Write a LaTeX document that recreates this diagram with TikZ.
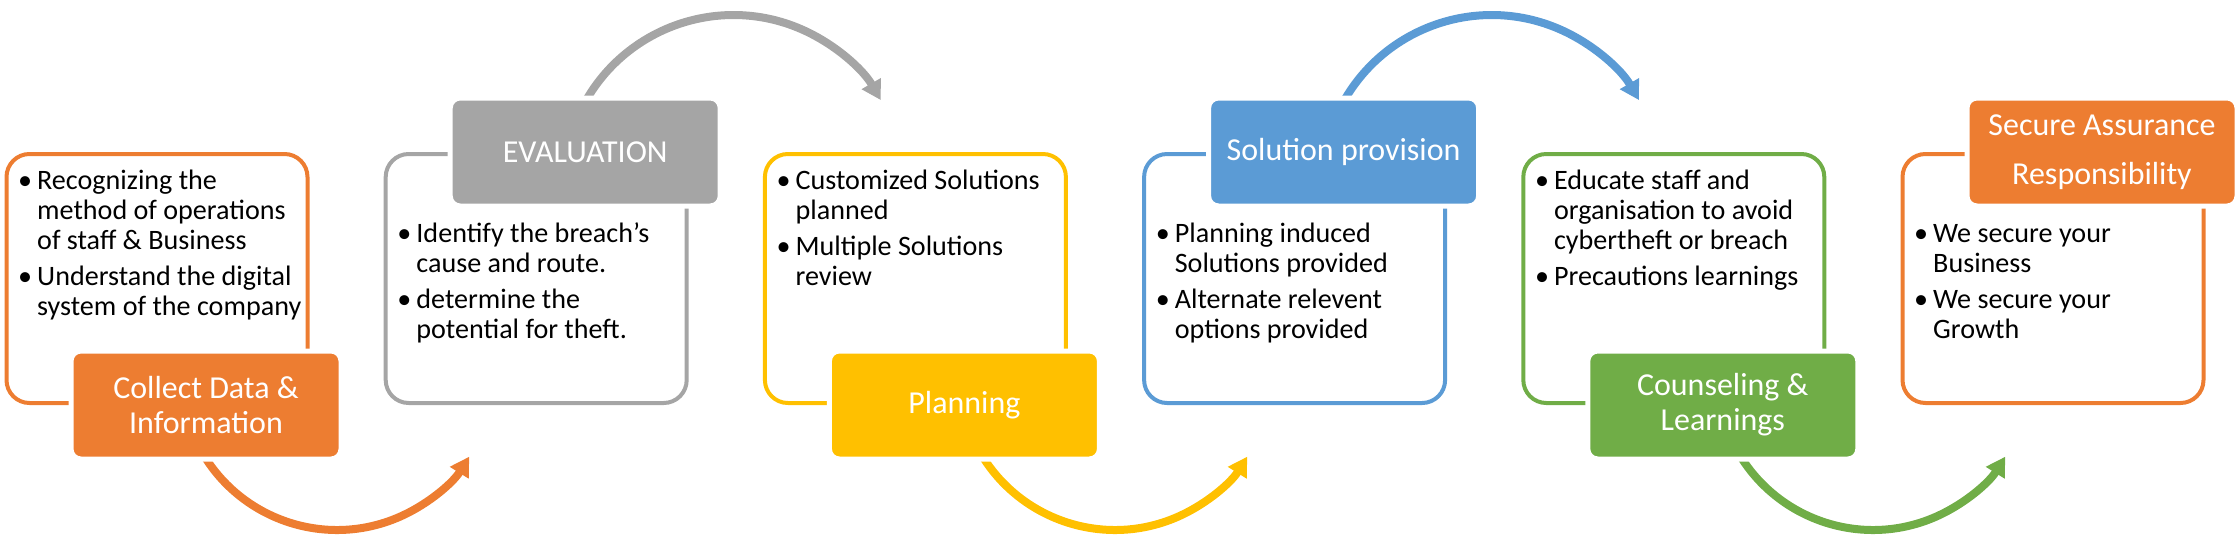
\documentclass[tikz,border=0pt]{standalone}
\usepackage{fontspec}
\setmainfont{Carlito}
\usetikzlibrary{arrows.meta,positioning}
\definecolor{collect}{RGB}{237,125,49}
\definecolor{evaluate}{RGB}{165,165,165}
\definecolor{planning}{RGB}{255,192,0}
\definecolor{provision}{RGB}{91,155,213}
\definecolor{counsel}{RGB}{112,173,71}
\definecolor{assure}{RGB}{237,125,49}
\newenvironment{points}{\begin{list}{\textbullet}{%
  \setlength{\leftmargin}{0.19cm}\setlength{\labelwidth}{0.19cm}%
  \setlength{\labelsep}{0pt}\setlength{\itemsep}{1.7pt}%
  \setlength{\parsep}{0pt}\setlength{\topsep}{0pt}\setlength{\partopsep}{0pt}%
  \def\makelabel##1{\strut##1\hfil}}}{\end{list}}
\newcommand{\bullets}[1]{\parbox[t]{2.95cm}{\raggedright\begin{points}#1\end{points}}}

\begin{document}
\begin{tikzpicture}[
  card/.style={draw=#1, line width=0.04cm, rounded corners=0.23cm, minimum width=3.01cm, minimum height=2.49cm},
  head/.style={fill=#1, draw=white, line width=0.05cm, rounded corners=0.1cm, minimum width=2.70cm, minimum height=1.08cm, text=white, align=center, font=\fontsize{9.1}{9.96}\selectfont},
  body/.style={anchor=north west, inner sep=0pt, font=\fontsize{8.0}{8.54}\selectfont},
  flow/.style={draw=#1, line width=0.08cm, -{Triangle[length=0.19cm, width=0.21cm]}},
]
\useasboundingbox (0,0) rectangle (22.4,5.45);

% Cards
\node[card=collect] (b1) at (1.57,2.665) {};
\node[card=evaluate] (b2) at (5.362,2.665) {};
\node[card=planning] (b3) at (9.154,2.665) {};
\node[card=provision] (b4) at (12.946,2.665) {};
\node[card=counsel] (b5) at (16.738,2.665) {};
\node[card=assure] (b6) at (20.53,2.665) {};

% Arc start points (hidden under the heads)
\coordinate (s1) at (1.956,1.051);
\coordinate (s2) at (5.794,4.318);
\coordinate (s3) at (9.736,1.051);
\coordinate (s4) at (13.376,4.318);
\coordinate (s5) at (17.316,1.051);

% Arrows
\draw[flow=collect] (s1) arc[start angle=-155, end angle=-32, radius=1.56];
\draw[flow=evaluate] (s2) arc[start angle=155, end angle=30, radius=1.70];
\draw[flow=planning] (s3) arc[start angle=-155, end angle=-32, radius=1.56];
\draw[flow=provision] (s4) arc[start angle=155, end angle=30, radius=1.70];
\draw[flow=counsel] (s5) arc[start angle=-155, end angle=-32, radius=1.56];

% Heads
\node[head=collect] (l1) at ([xshift=0.49cm]b1.south) {Collect Data \&\\Information};
\node[head=evaluate] (l2) at ([xshift=0.49cm]b2.north) {EVALUATION};
\node[head=planning] (l3) at ([xshift=0.49cm]b3.south) {Planning};
\node[head=provision] (l4) at ([xshift=0.49cm]b4.north) {Solution provision};
\node[head=counsel] (l5) at ([xshift=0.49cm]b5.south) {Counseling \&\\Learnings};
\node[head=assure, font=\fontsize{9.1}{13.9}\selectfont] (l6) at ([xshift=0.49cm]b6.north) {Secure Assurance\\Responsibility};

% Bullet text
\node[body, below right=0.16cm and 0.13cm of b1.north west] (t1) {\bullets{%
  \item Recognizing the\newline method of operations\newline of staff \& Business
  \item Understand the digital\newline system of the company}};
\node[body, below right=0.69cm and 0.13cm of b2.north west] (t2) {\bullets{%
  \item Identify the breach's\newline cause and route.
  \item determine the\newline potential for theft.}};
\node[body, below right=0.16cm and 0.13cm of b3.north west] (t3) {\bullets{%
  \item Customized Solutions\newline planned
  \item Multiple Solutions\newline review}};
\node[body, below right=0.69cm and 0.13cm of b4.north west] (t4) {\bullets{%
  \item Planning induced\newline Solutions provided
  \item Alternate relevent\newline options provided}};
\node[body, below right=0.16cm and 0.13cm of b5.north west] (t5) {\bullets{%
  \item Educate staff and\newline organisation to avoid\newline cybertheft or breach
  \item Precautions learnings}};
\node[body, below right=0.69cm and 0.13cm of b6.north west] (t6) {\bullets{%
  \item We secure your\newline Business
  \item We secure your\newline Growth}};
\end{tikzpicture}
\end{document}
